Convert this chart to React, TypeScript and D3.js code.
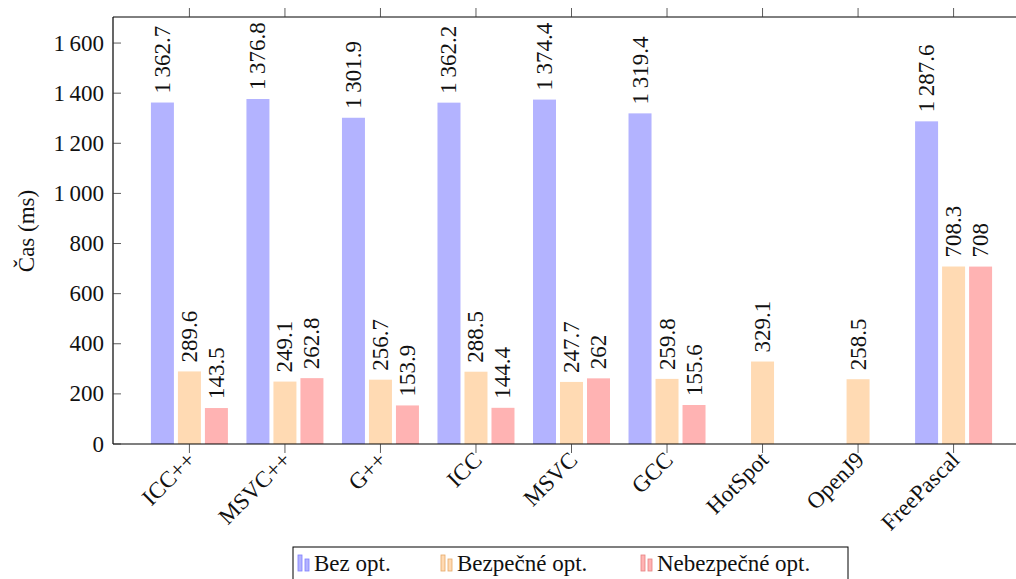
import React from "react";
import * as d3 from "d3";

const categories = ["ICC++", "MSVC++", "G++", "ICC", "MSVC", "GCC", "HotSpot", "OpenJ9", "FreePascal"];
const bezOpt: (number | null)[] = [1362.7, 1376.8, 1301.9, 1362.2, 1374.4, 1319.4, null, null, 1287.6];
const bezpecneOpt: (number | null)[] = [289.6, 249.1, 256.7, 288.5, 247.7, 259.8, 329.1, 258.5, 708.3];
const nebezpecneOpt: (number | null)[] = [143.5, 262.8, 153.9, 144.4, 262, 155.6, null, null, 708];
const seriesNames = ["Bez opt.", "Bezpečné opt.", "Nebezpečné opt."];
const yTicks = [0, 200, 400, 600, 800, 1000, 1200, 1400, 1600];

const fills = ["#b3b3ff", "#ffdab3", "#ffb3b3"];
const strokes = ["#7f7fff", "#e6a866", "#e68080"];

const W = 1016;
const H = 579;
const left = 113;
const right = 1030;
const top = 17;
const bottom = 444;
const FS = 23;
const fontStyle = { fontFamily: "'Liberation Serif'" };

function fmt(v: number): string {
  const s = String(v);
  const [i, d] = s.split(".");
  const ii = i.length > 3 ? i.slice(0, i.length - 3) + "\u2009" + i.slice(i.length - 3) : i;
  return d ? ii + "." + d : ii;
}

export default function App() {
  const x = d3.scalePoint<string>().domain(categories).range([left, right]).padding(0.8);
  const y = d3.scaleLinear().domain([0, 1704]).range([bottom, top]);
  const series = [bezOpt, bezpecneOpt, nebezpecneOpt];
  const barW = 23;
  const offs = [-27, 0, 27];

  return (
    <svg width={W} height={H} style={{ position: "absolute", left: 0, top: 0, ...fontStyle }}>
      <rect x={0} y={0} width={W} height={H} fill="white" />
      {series.map((s, si) =>
        s.map((v, ci) => {
          if (v == null) return null;
          const cx = (x(categories[ci]) as number) + offs[si];
          return (
            <g key={`b${si}-${ci}`}>
              <rect x={cx - barW / 2} y={y(v)} width={barW} height={y(0) - y(v)} fill={fills[si]} />
              <text
                transform={`translate(${cx},${y(v) - 9}) rotate(-90)`}
                fontSize={FS}
                dominantBaseline="central"
                textAnchor="start"
                fill="#111"
                style={fontStyle}
              >
                {fmt(v)}
              </text>
            </g>
          );
        })
      )}
      <line x1={left} x2={right} y1={bottom} y2={bottom} stroke="black" strokeWidth={1.2} />
      <line x1={left} x2={right} y1={top} y2={top} stroke="black" strokeWidth={1} />
      <line x1={left} x2={left} y1={top} y2={bottom} stroke="black" strokeWidth={1.2} />
      {yTicks.map((t) => (
        <g key={`y${t}`}>
          <line x1={left} x2={left + 8} y1={y(t)} y2={y(t)} stroke="#333" strokeWidth={0.8} />
          <text x={left - 9} y={y(t)} textAnchor="end" dominantBaseline="central" fontSize={FS} fill="#111" style={fontStyle}>
            {fmt(t)}
          </text>
        </g>
      ))}
      {categories.map((c) => {
        const cx = x(c) as number;
        return (
          <g key={`x${c}`}>
            <line x1={cx} x2={cx} y1={bottom} y2={bottom + 9} stroke="#333" strokeWidth={0.8} />
            <line x1={cx} x2={cx} y1={top} y2={top - 9} stroke="#333" strokeWidth={0.8} />
            <text
              transform={`translate(${cx + 2},${bottom + 12}) rotate(-45)`}
              textAnchor="end"
              dominantBaseline="central"
              fontSize={FS}
              fill="#111"
              style={fontStyle}
            >
              {c}
            </text>
          </g>
        );
      })}
      <text
        transform={`translate(26,231) rotate(-90)`}
        textAnchor="middle"
        dominantBaseline="central"
        fontSize={FS}
        fill="#111"
        style={fontStyle}
      >
        Čas (ms)
      </text>
      <rect x={293} y={547} width={555} height={40} fill="white" stroke="black" strokeWidth={1} />
      {seriesNames.map((n, i) => {
        const lx = [298, 441, 641][i];
        return (
          <g key={`l${i}`}>
            <rect x={lx} y={555} width={4} height={16} fill={fills[i]} stroke={strokes[i]} strokeWidth={0.8} />
            <rect x={lx + 7} y={559} width={4} height={12} fill={fills[i]} stroke={strokes[i]} strokeWidth={0.8} />
            <text x={lx + 16} y={571} fontSize={FS} fill="#111" style={fontStyle}>
              {n}
            </text>
          </g>
        );
      })}
    </svg>
  );
}
